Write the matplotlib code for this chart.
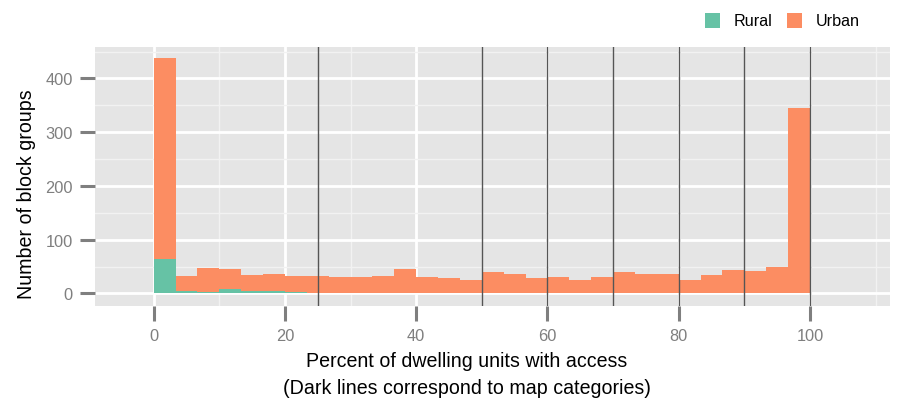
import numpy as np
import matplotlib
matplotlib.use("Agg")
import matplotlib.pyplot as plt
from matplotlib.patches import Rectangle

plt.rcParams['font.family'] = ['Liberation Sans', 'DejaVu Sans']

# ---- data (histogram, binwidth 10/3, first bin starts at -10/3) ----
bin_width = 10 / 3
bin_start = -10 / 3
rural = [0, 64, 5, 3, 8, 5, 5, 3, 0, 1, 1, 1, 1, 0, 0, 0, 1, 0, 0, 0, 1,
         0, 0, 0, 0, 0, 0, 0, 0, 0, 0, 0, 0]
urban = [1, 374, 28, 44, 38, 29, 31, 30, 33, 30, 30, 32, 45, 31, 29, 25, 39,
         36, 29, 31, 24, 31, 40, 36, 36, 25, 34, 44, 42, 49, 345, 1, 1]
category_breaks = [25, 50, 60, 70, 80, 90, 100]
x_ticks = [0, 20, 40, 60, 80, 100]
y_ticks = [0, 100, 200, 300, 400]
series_names = ["Rural", "Urban"]
colors = ["#66C2A5", "#FC8D62"]

W, H = 905, 406
fig = plt.figure(figsize=(W / 100, H / 100), dpi=100)
left, right, top, bottom = 95, 890, 48.3, 306.7
ax = fig.add_axes([left / W, (H - bottom) / H, (right - left) / W, (bottom - top) / H])
ax.set_facecolor("#E5E5E5")
for s in ax.spines.values():
    s.set_visible(False)

edges = bin_start + bin_width * np.arange(len(urban))
ax.bar(edges, rural, width=bin_width, align='edge', color=colors[0], linewidth=0, zorder=2)
ax.bar(edges, urban, width=bin_width, bottom=rural, align='edge', color=colors[1], linewidth=0, zorder=2)

for b in category_breaks:
    ax.axvline(b, color="#555555", lw=1.0, zorder=3)

ax.set_xlim(-8.94, 112.2)
ax.set_ylim(-22.7, 458)
ax.set_xticks(x_ticks)
ax.set_yticks(y_ticks)
ax.set_xticks([10, 30, 50, 70, 90, 110], minor=True)
ax.set_yticks([50, 150, 250, 350, 450], minor=True)
ax.grid(which='major', color='white', lw=2.0, zorder=1)
ax.grid(which='minor', color='#F2F2F2', lw=1.0, zorder=1)
ax.set_axisbelow(True)
ax.tick_params(which='major', length=10.5, width=2.2, color='#7F7F7F',
               labelcolor='#7F7F7F', labelsize=11.8, pad=5.5)
ax.tick_params(which='minor', length=0)

title_size = 14.1
fig.text(26 / W, 1 - 194 / H, "Number of block groups", rotation=90,
         ha='center', va='center', fontsize=title_size, color='black')
fig.text(467 / W, 1 - 362 / H, "Percent of dwelling units with access",
         ha='center', va='center', fontsize=title_size, color='black')
fig.text(467 / W, 1 - 389 / H, "(Dark lines correspond to map categories)",
         ha='center', va='center', fontsize=title_size, color='black')

# legend (top right)
leg_x = [705, 787]
for name, c, lx in zip(series_names, colors, leg_x):
    fig.patches.append(Rectangle((lx / W, 1 - 29 / H), 15 / W, 15 / H,
                                 transform=fig.transFigure, facecolor=c,
                                 edgecolor='none'))
    fig.text((lx + 29) / W, 1 - 21.5 / H, name, ha='left', va='center',
             fontsize=11.6, color='black')

fig.savefig("out.png", dpi=100)
